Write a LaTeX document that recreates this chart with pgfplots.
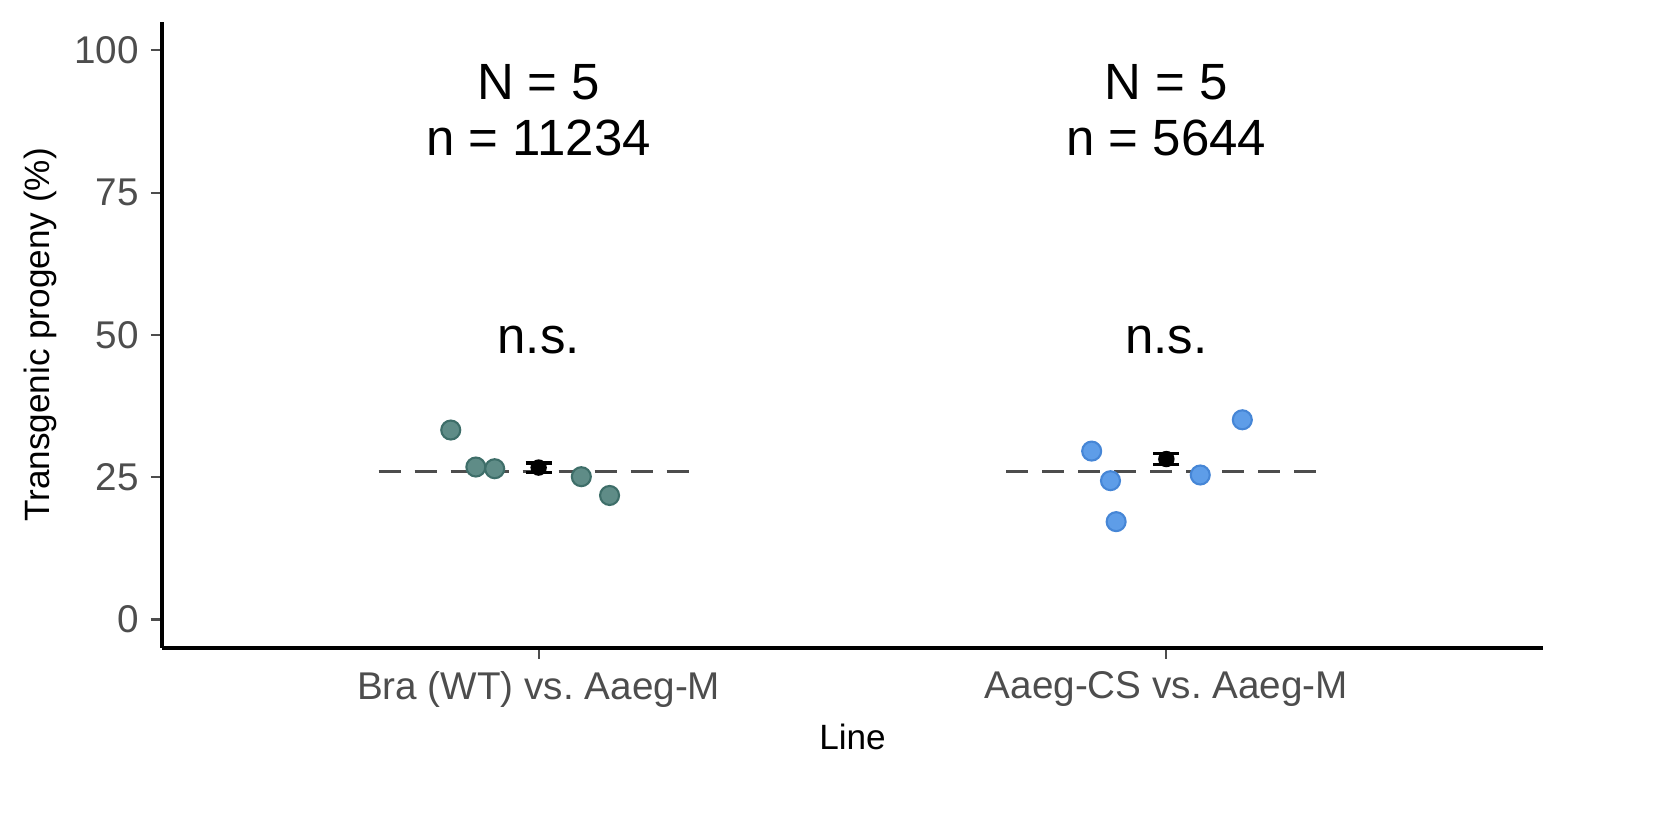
\documentclass[border=0pt]{standalone}
\usepackage{pgfplots}
\pgfplotsset{compat=1.18}
\usepackage{fontspec}
\setmainfont{Liberation Sans}
\definecolor{tealf}{HTML}{5F8C87}
\definecolor{teale}{HTML}{3E6E69}
\definecolor{bluef}{HTML}{5E9DE8}
\definecolor{bluee}{HTML}{4686D6}
\definecolor{tg}{HTML}{4D4D4D}
\begin{document}
\begin{tikzpicture}
\useasboundingbox (-16.2mm,-17.8mm) rectangle (149.1mm,64.8mm);
\begin{axis}[at={(0,0)},anchor=south west,
 scale only axis, width=138.1mm, height=62.6mm,
 xmin=-0.6, xmax=1.6, ymin=-5, ymax=105,
 axis lines=left, axis line style={-, line width=0.9pt, black},
 xtick={0,1}, xticklabels={Bra (WT) vs.\ Aaeg-M, Aaeg-CS vs.\ Aaeg-M},
 ytick={0,25,50,75,100},
 tick style={tg, line width=0.6pt}, tick align=outside, major tick length=1.1mm,
 ticklabel style={font=\fontsize{11}{13}\selectfont, text=tg},
 /pgf/number format/assume math mode=true,
 xlabel={Line}, ylabel={Transgenic progeny (\%)},
 label style={font=\fontsize{14.5}{17}\selectfont},
 every axis y label/.style={at={(axis description cs:-0.088,0.5)},rotate=90,anchor=center},
 every axis x label/.style={at={(axis description cs:0.5,-0.142)},anchor=center},
 clip=false]
\addplot[tg, dashed, dash pattern=on 2.2mm off 1.4mm, line width=0.9pt] coordinates {(-0.255,26) (0.255,26)};
\addplot[tg, dashed, dash pattern=on 2.2mm off 1.4mm, line width=0.9pt] coordinates {(0.745,26) (1.255,26)};
\addplot[only marks, mark=*, mark size=0.95mm, mark options={fill=tealf, draw=teale, line width=0.6pt}] coordinates {
(-0.14,33.3) (-0.10,26.8) (-0.07,26.5) (0.068,25.1) (0.113,21.8)};
\addplot[only marks, mark=*, mark size=0.95mm, mark options={fill=bluef, draw=bluee, line width=0.6pt}] coordinates {
(0.881,29.6) (0.911,24.4) (0.92,17.2) (1.054,25.4) (1.121,35.1)};
\addplot[only marks, mark=*, mark size=0.75mm, black,
 error bars/.cd, y dir=both, y explicit, error mark options={rotate=90, mark size=1.3mm, line width=0.9pt}, error bar style={line width=0.9pt}]
 coordinates {(0,26.7) +- (0,0.8) (1,28.2) +- (0,1.0)};
\node[font=\fontsize{14.5}{17}\selectfont] at (axis cs:0,94.4) {N = 5};
\node[font=\fontsize{14.5}{17}\selectfont] at (axis cs:0,84.6) {n = 11234};
\node[font=\fontsize{14.5}{17}\selectfont] at (axis cs:0,49.1) {n.s.};
\node[font=\fontsize{14.5}{17}\selectfont] at (axis cs:1,94.4) {N = 5};
\node[font=\fontsize{14.5}{17}\selectfont] at (axis cs:1,84.6) {n = 5644};
\node[font=\fontsize{14.5}{17}\selectfont] at (axis cs:1,49.1) {n.s.};
\end{axis}
\end{tikzpicture}
\end{document}
